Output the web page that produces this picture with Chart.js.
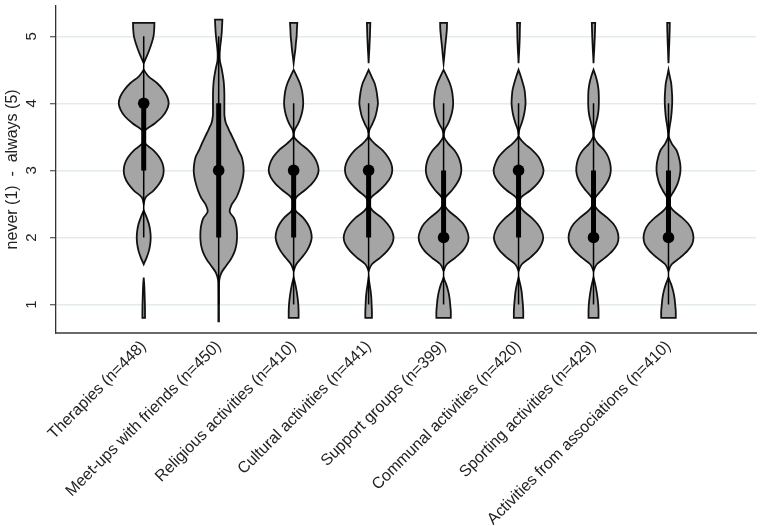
<!DOCTYPE html>
<html>
<head>
<meta charset="utf-8">
<script src="https://cdn.jsdelivr.net/npm/chart.js@4.4.1/dist/chart.umd.min.js"></script>
<style>
html,body{margin:0;padding:0;background:#ffffff;}
canvas{display:block;}
</style>
</head>
<body>
<canvas id="chart" width="762" height="526"></canvas>
<script>
// ---------- data ----------
const categories = [
  "Therapies (n=448)",
  "Meet-ups with friends (n=450)",
  "Religious activities (n=410)",
  "Cultural activities (n=441)",
  "Support groups (n=399)",
  "Communal activities (n=420)",
  "Sporting activities (n=429)",
  "Activities from associations (n=410)"
];
const positions   = [1, 2, 3, 4, 5, 6, 7, 8];
const medians     = [4, 3, 3, 3, 2, 3, 2, 2];
const q1          = [3, 2, 2, 2, 2, 2, 2, 2];
const q3          = [4, 4, 3, 3, 3, 3, 3, 3];
const whiskerLow  = [2, 1, 1, 1, 1, 1, 1, 1];
const whiskerHigh = [5, 5, 4, 4, 4, 4, 4, 4];
const yTicks      = [1, 2, 3, 4, 5];

// violin outline: density (half-width) sampled evenly from violinLow to violinHigh
const violinLow  = [0.8, 0.75, 0.8, 0.8, 0.8, 0.8, 0.8, 0.8];
const violinHigh = [5.2, 5.25, 5.2, 5.2, 5.2, 5.2, 5.2, 5.2];
const densTherapies = [1.3,1.3,1.2,1.0,0.8,0.5,0,0,0,2.9,5.2,6.5,7,6.5,5.2,2.9,0,0,2,9.8,15.5,18.9,20,18.9,15.5,9.8,1.5,0,1.5,11,18.5,23,25,23.5,19.5,13.5,5,0,0,3,5.7,8,9.8,10.5,10.7];
const densMeetups   = [0.3,0.3,0.3,0.3,0.3,0.35,0.6,2.5,7,12,15.5,17.5,18.3,18.3,17.5,15.5,11,13,17.5,20.5,22.7,24.3,25,24.5,23,19.5,16.5,13.3,10,7,5.8,5.7,5.7,5.7,5.5,5,4,2.7,1.2,1,1.5,2.3,3,3.4,3.7];
const densReligious = [5,5,4.7,4,3,1.7,0,0,2.7,8.3,13.3,16.7,18.3,17.3,14.3,9.3,2,0.4,2.7,11,18.3,23.3,25.3,24,20.7,15,6.7,0.4,1,4.7,7.3,9,9.7,9.3,8.3,6.3,3.3,0,0,0.8,1.7,2.3,3,3.3,3.7];
const densCultural  = [3.3,3.3,3,2.7,2,1,0,0,3.3,11.7,18.7,23.3,25,23.3,19,12.7,4,0.4,2.7,10.7,17.3,22,23.7,22.7,19.3,14,6,0.4,0.7,4,6.7,8.3,9.3,8.7,7.7,6,3,0,0,0.3,0.7,1,1.3,1.5,1.7];
const densSupport   = [7.3,7.3,6.7,6,4.7,2.7,0,0,3.3,12,19.3,23.7,25.3,23.7,20,13.3,5,0.5,2,8.3,13.3,16.7,18,17.3,15,11,4.7,0.4,1,4.7,7.3,9,9.7,9.3,8.3,6.3,3.3,0,0,0.7,1.3,2,2.7,3.3,3.5];
const densCommunal  = [4.7,4.7,4.3,3.7,3,1.7,0,0,3.3,11.7,18.7,23,24.7,23,19,12.7,4.7,0.5,2.7,11.7,18.7,23.3,25,23.3,20,14,6,0.4,0.7,3,5,6.3,7,6.7,6,4.3,2.3,0,0,0.3,0.7,1,1.2,1.3,1.5];
const densSporting  = [5,5,4.7,4,3,1.7,0,0,3.3,11.7,19,23.7,25,23.7,20,13.3,5,0.5,2,7.7,12.7,16,17.3,16.7,14.7,10.7,4.3,0.4,0.7,2.3,4,5,5.3,5.3,5,4,2.3,0,0,0.3,0.7,1,1.3,1.5,1.7];
const densAssoc     = [7.3,7.3,6.7,6,4.7,2.7,0,0,3.3,11.7,19,23.7,25,23.7,20,13.3,5,0.5,1.7,5.7,9,11,12,11.7,10.3,8,3.3,0.4,0.7,1.7,2.7,3.3,3.7,3.7,3.3,2.7,1.3,0,0,0.3,0.5,0.8,1,1.2,1.3];
const densities = [densTherapies, densMeetups, densReligious, densCultural, densSupport, densCommunal, densSporting, densAssoc];

// ---------- drawing ----------
const FONT = '"Liberation Sans", Arial, Helvetica, sans-serif';
const VIOLIN_HALF = 0.333;   // max half-width in x units

function curveThrough(ctx, p) {
  for (let i = 0; i < p.length - 1; i++) {
    const p0 = p[Math.max(i - 1, 0)], p1 = p[i], p2 = p[i + 1], p3 = p[Math.min(i + 2, p.length - 1)];
    ctx.bezierCurveTo(
      p1.x + (p2.x - p0.x) / 6, p1.y + (p2.y - p0.y) / 6,
      p2.x - (p3.x - p1.x) / 6, p2.y - (p3.y - p1.y) / 6,
      p2.x, p2.y);
  }
}

const violinPlugin = {
  id: 'violins',
  beforeDatasetsDraw(chart) {
    const { ctx } = chart;
    const xs = chart.scales.x, ys = chart.scales.y;
    ctx.save();
    densities.forEach((d, i) => {
      const n = d.length, lo = violinLow[i], hi = violinHigh[i];
      const maxD = Math.max(...d);
      const pos = positions[i];
      const yAt = k => lo + (hi - lo) * k / (n - 1);
      const runs = [];
      let cur = null;
      for (let k = 0; k < n; k++) {
        if (d[k] > 0) {
          if (!cur) { cur = []; if (k > 0) cur.push([yAt(k - 1), 0]); }
          cur.push([yAt(k), d[k]]);
        } else if (cur) {
          cur.push([yAt(k), 0]); runs.push(cur); cur = null;
        }
      }
      if (cur) runs.push(cur);
      runs.forEach(run => {
        const right = run.map(([yv, v]) => ({ x: xs.getPixelForValue(pos + v / maxD * VIOLIN_HALF), y: ys.getPixelForValue(yv) }));
        const left = run.map(([yv, v]) => ({ x: xs.getPixelForValue(pos - v / maxD * VIOLIN_HALF), y: ys.getPixelForValue(yv) })).reverse();
        ctx.beginPath();
        ctx.moveTo(right[0].x, right[0].y);
        curveThrough(ctx, right);
        ctx.lineTo(left[0].x, left[0].y);
        curveThrough(ctx, left);
        ctx.closePath();
        ctx.fillStyle = '#a5a5a5';
        ctx.fill();
        ctx.lineWidth = 1.8;
        ctx.lineJoin = 'miter';
        ctx.strokeStyle = '#111';
        ctx.stroke();
      });
    });
    ctx.restore();
  },
  afterDraw(chart) {
    const { ctx } = chart;
    const ys = chart.scales.y;
    ctx.save();
    ctx.font = '15px ' + FONT;
    ctx.fillStyle = '#222';
    ctx.textAlign = 'center';
    ctx.textBaseline = 'alphabetic';
    yTicks.forEach(v => {
      ctx.save();
      ctx.translate(ys.right - 20, ys.getPixelForValue(v));
      ctx.rotate(-Math.PI / 2);
      ctx.fillText(String(v), 0, 0);
      ctx.restore();
    });
    ctx.restore();
  }
};

new Chart(document.getElementById('chart'), {
  type: 'scatter',
  data: {
    datasets: [
      {
        type: 'scatter',
        data: positions.map((p, i) => ({ x: p, y: medians[i] })),
        pointRadius: 5.8,
        pointBackgroundColor: '#000',
        pointBorderWidth: 0,
        order: 0
      },
      {
        type: 'bar',
        data: positions.map((p, i) => ({ x: p, y: [q1[i], q3[i]] })),
        backgroundColor: '#000',
        grouped: false,
        maxBarThickness: 5,
        borderWidth: 0,
        order: 1
      },
      {
        type: 'bar',
        data: positions.map((p, i) => ({ x: p, y: [whiskerLow[i], whiskerHigh[i]] })),
        backgroundColor: '#000',
        grouped: false,
        maxBarThickness: 1.5,
        borderWidth: 0,
        order: 2
      }
    ]
  },
  options: {
    responsive: false,
    animation: false,
    layout: { padding: { left: 0, right: 4, top: 0, bottom: 0 } },
    plugins: { legend: { display: false }, tooltip: { enabled: false } },
    scales: {
      x: {
        type: 'linear',
        min: -0.17, max: 9.17,
        offset: false,
        afterBuildTicks: s => { s.ticks = positions.map(v => ({ value: v })); },
        afterFit: s => { s.height = 193; },
        grid: { display: false, drawTicks: false },
        border: { display: true, color: '#6a6a6a', width: 2 },
        ticks: {
          autoSkip: false,
          minRotation: 45, maxRotation: 45,
          padding: 4,
          color: '#222',
          font: { family: FONT, size: 16 },
          callback: v => { const i = positions.indexOf(v); return i >= 0 ? categories[i] : ''; }
        }
      },
      y: {
        type: 'linear',
        min: 0.575, max: 5.455,
        afterBuildTicks: s => { s.ticks = yTicks.map(v => ({ value: v })); },
        afterFit: s => { s.width = 56; },
        grid: { color: '#e3ebeb', lineWidth: 1.5, drawTicks: true, tickLength: 6, tickColor: '#333', tickWidth: 1 },
        border: { display: true, color: '#333', width: 1.3 },
        ticks: { display: false },
        title: {
          display: true,
          text: 'never (1)  -  always (5)',
          color: '#222',
          font: { family: FONT, size: 16 },
          padding: { top: 3, bottom: 0 }
        }
      }
    }
  },
  plugins: [violinPlugin]
});
</script>
</body>
</html>
